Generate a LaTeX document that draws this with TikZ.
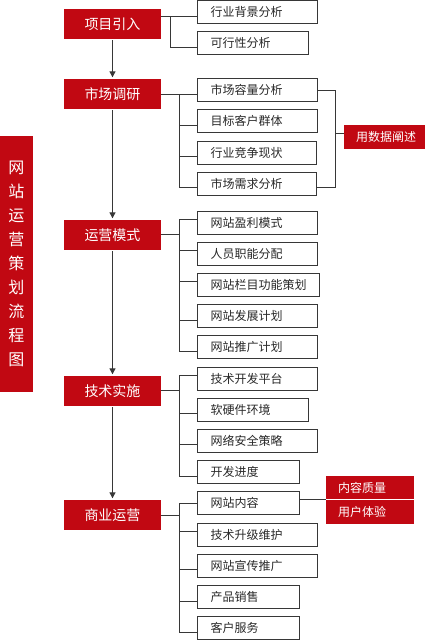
\documentclass[tikz,border=0pt]{standalone}
\usepackage{fontspec}
\newfontfamily\cjk{Noto Sans CJK SC}
\usetikzlibrary{arrows.meta}
\definecolor{redc}{RGB}{193,8,18}
\definecolor{linec}{RGB}{55,55,55}
\definecolor{textc}{RGB}{40,40,40}
\tikzset{
 mainbox/.style={fill=redc, text=white, font=\cjk\fontsize{14}{14}\selectfont, minimum width=97pt, minimum height=30pt, inner sep=0pt},
 subbox/.style={draw=linec, line width=1pt, text=textc, font=\cjk\fontsize{12}{12}\selectfont, inner xsep=13pt, inner ysep=0pt, minimum height=23pt, text width=#1, align=left, anchor=west},
 notebox/.style={fill=redc, text=white, font=\cjk\fontsize{12}{12}\selectfont, inner xsep=12pt, inner ysep=0pt, minimum height=23.5pt, text width=#1, align=left, anchor=west},
 titlebox/.style={fill=redc, text=white, font=\cjk\fontsize{16}{24}\selectfont, minimum width=33pt, minimum height=255.7pt, inner sep=0pt, align=center},
 conn/.style={draw=linec, line width=1pt},
 flow/.style={draw=linec, line width=1.1pt, -{Triangle[width=6pt,length=6pt]}, shorten >=1.5pt, shorten <=1pt},
}
\begin{document}
\begin{tikzpicture}[x=1pt, y=-1pt]
\useasboundingbox (0,0) rectangle (425,641);
% title
\node[titlebox] (t) at (16.5,263.8) {网\\站\\运\\营\\策\\划\\流\\程\\图};
% main steps
\node[mainbox] (r1) at (112.5,24) {项目引入};
\node[mainbox] (r2) at (112.5,94) {市场调研};
\node[mainbox] (r3) at (112.5,235) {运营模式};
\node[mainbox] (r4) at (112.5,391) {技术实施};
\node[mainbox] (r5) at (112.5,515) {商业运营};
\draw[flow] (r1.south) -- (r2.north);
\draw[flow] (r2.south) -- (r3.north);
\draw[flow] (r3.south) -- (r4.north);
\draw[flow] (r4.south) -- (r5.north);
% group 1
\node[subbox=94pt] (a1) at (197,12.2) {行业背景分析};
\node[subbox=85pt] (a2) at (197,43.3) {可行性分析};
\draw[conn] (r1.east |- 0,16.5) -- (a1.west |- 0,16.5);
\draw[conn] (170.5,16.5) |- (a2.west |- 0,47.5);
% group 2
\node[subbox=94pt] (b1) at (197,89.8) {市场容量分析};
\node[subbox=94pt] (b2) at (197,121.3) {目标客户群体};
\node[subbox=93pt] (b3) at (197,152.8) {行业竞争现状};
\node[subbox=93pt] (b4) at (197,183.8) {市场需求分析};
\node[notebox=57pt, align=center] (d1) at (344,137) {用数据阐述};
\draw[conn] (r2.east |- 0,94.5) -- (b1.west |- 0,94.5);
\draw[conn] (179.5,94.5) |- (b4.west |- 0,187.5);
\draw[conn] (179.5,125.5) -- (b2.west |- 0,125.5);
\draw[conn] (179.5,156.5) -- (b3.west |- 0,156.5);
\draw[conn] (b1.east |- 0,90.5) -| (335.5,187.5) -- (b4.east |- 0,187.5);
\draw[conn] (335.5,133.5) -- (d1.west |- 0,133.5);
% group 3
\node[subbox=94pt] (c1) at (197,222.8) {网站盈利模式};
\node[subbox=94pt] (c2) at (197,254) {人员职能分配};
\node[subbox=95.7pt] (c3) at (197,285.3) {网站栏目功能策划};
\node[subbox=94pt] (c4) at (197,316.3) {网站发展计划};
\node[subbox=94pt] (c5) at (197,347.3) {网站推广计划};
\draw[conn] (r3.east |- 0,234.5) -- (179.5,234.5);
\draw[conn] (c1.west |- 0,219.5) -| (179.5,351.5) -- (c5.west |- 0,351.5);
\draw[conn] (179.5,250.5) -- (c2.west |- 0,250.5);
\draw[conn] (179.5,281.5) -- (c3.west |- 0,281.5);
\draw[conn] (179.5,320.5) -- (c4.west |- 0,320.5);
% group 4
\node[subbox=94pt] (e1) at (197,378.5) {技术开发平台};
\node[subbox=85pt] (e2) at (197,409.8) {软硬件环境};
\node[subbox=94pt] (e3) at (197,441.3) {网络安全策略};
\node[subbox=76.3pt] (e4) at (197,472.3) {开发进度};
\draw[conn] (r4.east |- 0,390.5) -- (179.5,390.5);
\draw[conn] (e1.west |- 0,375.5) -| (179.5,476.5) -- (e4.west |- 0,476.5);
\draw[conn] (179.5,413.5) -- (e2.west |- 0,413.5);
\draw[conn] (179.5,444.5) -- (e3.west |- 0,444.5);
% group 5
\node[subbox=76.3pt] (f1) at (197,503.3) {网站内容};
\node[subbox=94pt] (f2) at (197,534.8) {技术升级维护};
\node[subbox=94pt] (f3) at (197,565.8) {网站宣传推广};
\node[subbox=76.3pt] (f4) at (197,597.3) {产品销售};
\node[subbox=76.3pt] (f5) at (197,628.3) {客户服务};
\node[notebox=64pt] (g1) at (326,487.5) {内容质量};
\node[notebox=64pt] (g2) at (326,511.8) {用户体验};
\draw[conn] (r5.east |- 0,515.5) -- (179.5,515.5);
\draw[conn] (f1.west |- 0,503.5) -| (179.5,632.5) -- (f5.west |- 0,632.5);
\draw[conn] (179.5,531.5) -- (f2.west |- 0,531.5);
\draw[conn] (179.5,569.5) -- (f3.west |- 0,569.5);
\draw[conn] (179.5,601.5) -- (f4.west |- 0,601.5);
\draw[conn] (f1.east |- 0,499.5) -- (g1.west |- 0,499.5);
\end{tikzpicture}
\end{document}
